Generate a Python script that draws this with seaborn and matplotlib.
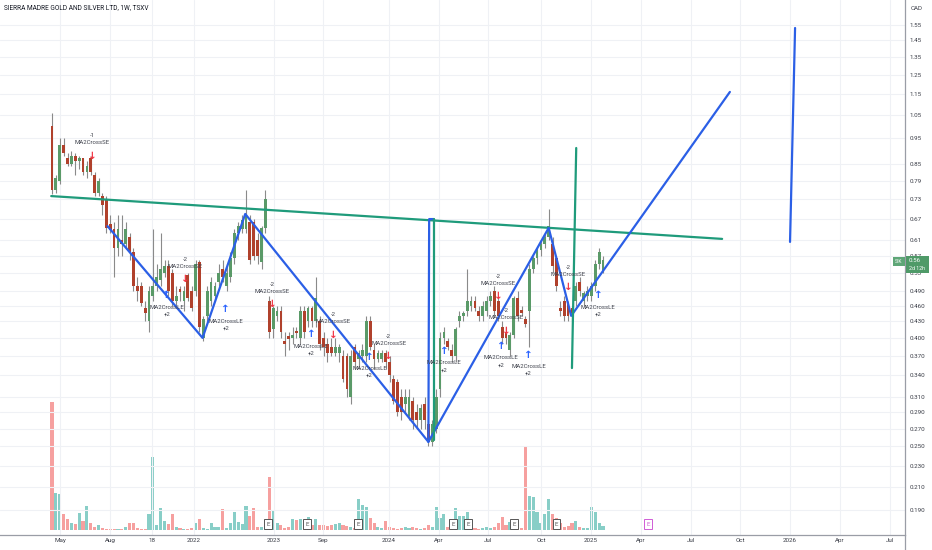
import numpy as np
import pandas as pd
import matplotlib
matplotlib.use("Agg")
import matplotlib.pyplot as plt
from matplotlib.patches import Rectangle
from matplotlib.lines import Line2D
from matplotlib.transforms import blended_transform_factory
from matplotlib.ticker import NullLocator
import seaborn as sns

# ---------------- data (weekly bars, CAD) ----------------
opens = [1.00, 0.76, 0.79, 0.92, 0.87, 0.85, 0.88, 0.86, 0.87, 0.82,
         0.87, 0.81, 0.75, 0.74, 0.73, 0.655, 0.64, 0.59, 0.61, 0.60,
         0.62, 0.58, 0.50, 0.50, 0.455, 0.43, 0.48, 0.50, 0.515, 0.53,
         0.545, 0.53, 0.47, 0.49, 0.47, 0.525, 0.49, 0.49, 0.555, 0.40,
         0.44, 0.47, 0.48, 0.51, 0.54, 0.50, 0.52, 0.565, 0.63, 0.64,
         0.64, 0.66, 0.66, 0.61, 0.555, 0.645,
         0.47, 0.415, 0.44, 0.45, 0.395, 0.40, 0.40, 0.41, 0.40, 0.45,
         0.43, 0.455, 0.43, 0.43, 0.40, 0.39, 0.385, 0.375, 0.375, 0.37,
         0.37, 0.31, 0.385, 0.365, 0.37, 0.37, 0.43, 0.38, 0.365, 0.365,
         0.375, 0.36, 0.335, 0.33, 0.31, 0.30, 0.285, 0.305, 0.29, 0.28,
         0.30, 0.275, 0.255, 0.27, 0.32, 0.40, 0.395, 0.38, 0.37, 0.43,
         0.44, 0.45, 0.46, 0.47, 0.45, 0.44, 0.45, 0.47, 0.49, 0.47,
         0.42, 0.41, 0.38, 0.405, 0.475, 0.45, 0.435, 0.45, 0.54, 0.565,
         0.585, 0.60, 0.62, 0.60, 0.565, 0.455, 0.47, 0.465, 0.455, 0.47,
         0.51, 0.47, 0.48, 0.48, 0.50, 0.55, 0.535]
highs = [1.06, 0.81, 0.95, 0.95, 0.89, 0.90, 0.89, 0.88, 0.87, 0.86,
         0.88, 0.82, 0.80, 0.75, 0.74, 0.68, 0.66, 0.68, 0.68, 0.66,
         0.63, 0.59, 0.52, 0.51, 0.47, 0.50, 0.64, 0.55, 0.63, 0.56,
         0.56, 0.54, 0.50, 0.50, 0.50, 0.53, 0.50, 0.56, 0.56, 0.44,
         0.50, 0.52, 0.51, 0.55, 0.56, 0.55, 0.58, 0.64, 0.66, 0.68,
         0.76, 0.68, 0.67, 0.63, 0.65, 0.76,
         0.48, 0.46, 0.46, 0.46, 0.41, 0.41, 0.42, 0.42, 0.46, 0.46,
         0.46, 0.46, 0.52, 0.44, 0.41, 0.40, 0.40, 0.40, 0.39, 0.38,
         0.375, 0.38, 0.39, 0.38, 0.39, 0.44, 0.44, 0.39, 0.38, 0.38,
         0.38, 0.37, 0.34, 0.335, 0.32, 0.32, 0.32, 0.31, 0.30, 0.30,
         0.31, 0.28, 0.28, 0.32, 0.41, 0.42, 0.40, 0.39, 0.42, 0.45,
         0.45, 0.54, 0.48, 0.48, 0.46, 0.47, 0.48, 0.49, 0.50, 0.48,
         0.43, 0.42, 0.41, 0.48, 0.49, 0.46, 0.44, 0.55, 0.57, 0.59,
         0.61, 0.63, 0.70, 0.62, 0.57, 0.47, 0.48, 0.47, 0.46, 0.51,
         0.52, 0.49, 0.50, 0.51, 0.56, 0.59, 0.57]
lows = [0.745, 0.75, 0.78, 0.88, 0.84, 0.84, 0.81, 0.83, 0.81, 0.80,
        0.81, 0.74, 0.74, 0.68, 0.63, 0.63, 0.52, 0.57, 0.57, 0.59,
        0.56, 0.49, 0.47, 0.46, 0.43, 0.41, 0.47, 0.49, 0.50, 0.52,
        0.48, 0.46, 0.46, 0.47, 0.45, 0.47, 0.45, 0.48, 0.41, 0.395,
        0.43, 0.46, 0.47, 0.50, 0.51, 0.49, 0.51, 0.55, 0.61, 0.63,
        0.63, 0.55, 0.56, 0.55, 0.54, 0.63,
        0.40, 0.40, 0.43, 0.40, 0.37, 0.38, 0.39, 0.40, 0.39, 0.40,
        0.42, 0.42, 0.42, 0.38, 0.37, 0.36, 0.37, 0.37, 0.36, 0.33,
        0.31, 0.30, 0.35, 0.35, 0.36, 0.36, 0.38, 0.35, 0.36, 0.36,
        0.35, 0.33, 0.30, 0.285, 0.28, 0.29, 0.28, 0.27, 0.27, 0.27,
        0.27, 0.25, 0.25, 0.265, 0.31, 0.39, 0.38, 0.36, 0.36, 0.42,
        0.43, 0.44, 0.45, 0.45, 0.43, 0.43, 0.44, 0.46, 0.44, 0.43,
        0.39, 0.39, 0.37, 0.40, 0.43, 0.44, 0.42, 0.385, 0.53, 0.55,
        0.57, 0.59, 0.61, 0.53, 0.49, 0.44, 0.43, 0.43, 0.43, 0.46,
        0.48, 0.46, 0.47, 0.47, 0.49, 0.54, 0.53]
closes = [0.76, 0.80, 0.92, 0.89, 0.85, 0.88, 0.86, 0.87, 0.82, 0.84,
          0.82, 0.75, 0.79, 0.71, 0.645, 0.638, 0.59, 0.64, 0.60, 0.64,
          0.58, 0.50, 0.49, 0.465, 0.445, 0.49, 0.50, 0.52, 0.54, 0.545,
          0.49, 0.47, 0.48, 0.488, 0.49, 0.475, 0.455, 0.55, 0.42, 0.435,
          0.49, 0.51, 0.50, 0.53, 0.52, 0.53, 0.565, 0.63, 0.65, 0.665,
          0.68, 0.56, 0.57, 0.57, 0.645, 0.73,
          0.41, 0.455, 0.45, 0.41, 0.39, 0.398, 0.402, 0.408, 0.45, 0.41,
          0.455, 0.43, 0.475, 0.39, 0.385, 0.375, 0.375, 0.385, 0.385, 0.335,
          0.32, 0.37, 0.36, 0.375, 0.38, 0.43, 0.385, 0.365, 0.375, 0.375,
          0.36, 0.34, 0.305, 0.29, 0.29, 0.31, 0.31, 0.28, 0.28, 0.295,
          0.28, 0.255, 0.275, 0.31, 0.40, 0.41, 0.385, 0.37, 0.415, 0.44,
          0.442, 0.47, 0.47, 0.455, 0.44, 0.46, 0.47, 0.48, 0.45, 0.44,
          0.40, 0.40, 0.405, 0.475, 0.44, 0.445, 0.425, 0.54, 0.565, 0.585,
          0.60, 0.62, 0.65, 0.545, 0.50, 0.45, 0.44, 0.44, 0.445, 0.50,
          0.49, 0.485, 0.49, 0.50, 0.55, 0.58, 0.56]
volumes = [128, 37, 36, 16, 11, 7, 6, 17, 9, 24,
           7, 3, 5, 2, 1, 1, 1, 1, 1, 3,
           7, 7, 2, 1, 1, 16, 73, 5, 22, 9,
           6, 16, 3, 2, 1, 1, 2, 7, 11, 2,
           1, 7, 3, 3, 21, 2, 7, 18, 8, 6,
           24, 14, 22, 3, 3, 4,
           53, 20, 7, 5, 2, 3, 11, 10, 11, 5,
           13, 5, 11, 5, 5, 4, 5, 6, 7, 5,
           4, 3, 2, 31, 25, 23, 12, 7, 3, 2,
           9, 3, 2, 1, 2, 3, 2, 3, 2, 1,
           2, 5, 3, 23, 12, 16, 3, 5, 22, 14,
           14, 18, 3, 2, 1, 2, 3, 2, 3, 7,
           13, 5, 8, 7, 3, 2, 84, 34, 33, 18,
           7, 16, 31, 16, 12, 7, 3, 4, 7, 9,
           3, 2, 2, 23, 18, 7, 4]

last_price = 0.56

# y-axis ticks as shown by the chart
price_ticks = [1.55, 1.45, 1.35, 1.25, 1.15, 1.05, 0.95, 0.85, 0.79, 0.73,
               0.67, 0.61, 0.57, 0.53, 0.49, 0.46, 0.43, 0.40, 0.37, 0.34,
               0.31, 0.29, 0.27, 0.25, 0.23, 0.21, 0.19]
price_labels = ["1.55", "1.45", "1.35", "1.25", "1.15", "1.05", "0.95", "0.85",
                "0.79", "0.73", "0.67", "0.61", "0.57", "0.53", "0.490", "0.460",
                "0.430", "0.400", "0.370", "0.340", "0.310", "0.290", "0.270",
                "0.250", "0.230", "0.210", "0.190"]
time_labels = ["May", "Aug", "18", "2022", "2023", "Sep", "2024", "Apr", "Jul",
               "Oct", "2025", "Apr", "Jul", "Oct", "2026", "Apr", "Jul"]

# drawings (bar index, price)
zig_i = [14.3, 38.8, 49.8, 97.0, 128.0, 133.8, 174.7]
zig_p = [0.649, 0.400, 0.684, 0.255, 0.644, 0.440, 1.16]
neck_i = [-0.2, 172.7]
neck_p = [0.739, 0.614]
bluev_i = [97.0, 97.2, 98.4]
bluev_p = [0.255, 0.669, 0.669]
tealv_i = [98.4, 98.4]
tealv_p = [0.669, 0.257]
teal2_i = [134.0, 135.1]
teal2_p = [0.351, 0.910]
blue2_i = [190.2, 191.5]
blue2_p = [0.606, 1.53]

# strategy signals
se_i = [10.3, 34.3, 56.8, 72.5, 86.8, 115.0, 117.0, 133.0]
se_p = [0.930, 0.546, 0.490, 0.429, 0.391, 0.507, 0.436, 0.527]
se_qty = ["-1", "-2", "-2", "-2", "-2", "-2", "-2", "-2"]
le_i = [29.6, 44.8, 66.8, 81.8, 101.0, 115.8, 122.8, 140.7]
le_p = [0.457, 0.430, 0.386, 0.350, 0.359, 0.367, 0.353, 0.457]
le_qty = ["+2"] * 8
earn_i = [55.7, 65.8, 78.8, 103.3, 107.3, 119.0, 130.0]
earn_future_i = [153.6]

# ---------------- style ----------------
sns.set_theme(style="white")
plt.rcParams["font.family"] = ["Roboto", "DejaVu Sans"]

GREEN = "#5a9a68"
RED = "#b0412c"
WICK = "#8a8a8a"
BLUE = "#2b5fe6"
TEAL = "#1f9b7b"
VUP = "#26a69a"
VDN = "#ef5350"
GRID = "#eff1f5"
TXT = "#3f424c"

W, H = 932, 550
SP = 551 / 142.0           # pixel spacing of bars
fig = plt.figure(figsize=(W / 100, H / 100), dpi=100)
fig.patch.set_facecolor("white")
rect = [0, 15 / H, 905 / W, 535 / H]
vax = fig.add_axes(rect, zorder=1)
ax = fig.add_axes(rect, zorder=2, sharex=vax)
ax.patch.set_alpha(0)

idx = np.arange(len(closes))
o = np.array(opens); c = np.array(closes)
hi = np.array(highs); lo = np.array(lows)
up = c >= o

# volume
vax.bar(idx, volumes, width=0.8, color=np.where(up, VUP, VDN), alpha=0.55, linewidth=0)
vax.set_ylim(-5, 530)
vax.axis("off")

# price
ax.set_yscale("log")
ax.set_xlim(-52 / SP, 853 / SP)
ax.set_ylim(0.1704, 1.727)
ax.vlines(idx, lo, hi, color=WICK, lw=0.8, zorder=3)
bot = np.minimum(o, c)
hgt = np.maximum(np.abs(c - o), bot * 0.012)
ax.bar(idx, hgt, bottom=bot, width=0.72, color=np.where(up, GREEN, RED), linewidth=0, zorder=4)

# drawings
def draw(xs, ys, color):
    d = pd.DataFrame({"i": xs, "p": ys})
    sns.lineplot(data=d, x="i", y="p", sort=False, estimator=None, color=color,
                 lw=1.6, ax=ax, zorder=5)

draw(neck_i, neck_p, TEAL)
draw(zig_i, zig_p, BLUE)
draw(bluev_i, bluev_p, BLUE)
draw(tealv_i, tealv_p, TEAL)
draw(teal2_i, teal2_p, TEAL)
draw(blue2_i, blue2_p, BLUE)

# signals
def note(i, p, txt, dy, color=TXT, size=4.3, weight="normal"):
    ax.annotate(txt, (i, p), xytext=(0, -dy * 0.72), textcoords="offset points",
                ha="center", va="center", fontsize=size, color=color,
                fontweight=weight, zorder=7)

for i, p, q in zip(se_i, se_p, se_qty):
    note(i, p, q, -7)
    note(i, p, "MA2CrossSE", 0)
    note(i, p, "\u2193", 13, color="#f23645", size=7.5, weight="bold")
for i, p, q in zip(le_i, le_p, le_qty):
    note(i, p, "\u2191", -12, color="#2962ff", size=7.5, weight="bold")
    note(i, p, "MA2CrossLE", 0)
    note(i, p, q, 7)

# earnings markers
btr = blended_transform_factory(ax.transData, ax.transAxes)
for i in earn_i:
    ax.text(i, 11 / 535, "E", transform=btr, ha="center", va="center", fontsize=4.4,
            color="#555555", zorder=8,
            bbox=dict(boxstyle="square,pad=0.35", fc="white", ec="#555555", lw=0.7))
for i in earn_future_i:
    ax.text(i, 11 / 535, "E", transform=btr, ha="center", va="center", fontsize=4.4,
            color="#d05cd6", zorder=8,
            bbox=dict(boxstyle="square,pad=0.35", fc="white", ec="#d05cd6", lw=0.7))

# axes / ticks
tick_px = [60, 110, 152, 194, 274, 323, 389, 439, 488, 541, 591, 641, 691, 740, 790, 840, 890]
ax.set_xticks([(px - 52) / SP for px in tick_px])
ax.set_xticklabels(time_labels)
ax.set_yticks(price_ticks)
ax.set_yticklabels(price_labels)
ax.yaxis.set_minor_locator(NullLocator())
ax.yaxis.tick_right()
ax.tick_params(axis="y", length=0, pad=3.5, labelsize=4.5, labelcolor="#3a3d47")
ax.tick_params(axis="x", length=0, pad=2.2, labelsize=4.5, labelcolor="#3a3d47")
ax.set_xlabel(""); ax.set_ylabel("")
ax.grid(True, color=GRID, lw=0.8)
for s in ["top", "left"]:
    ax.spines[s].set_visible(False)
for s in ["right", "bottom"]:
    ax.spines[s].set_color("#9a9da6")
    ax.spines[s].set_linewidth(0.9)
fig.add_artist(Line2D([905 / W, 905 / W], [0, 15 / H], color="#9a9da6", lw=0.9,
                      transform=fig.transFigure, zorder=9))

# header texts
fig.text(4 / W, 1 - 8 / H, "SIERRA MADRE GOLD AND SILVER LTD, 1W, TSXV",
         fontsize=4.7, color="#131722", va="center", ha="left")
fig.text(917 / W, 1 - 9 / H, "CAD", fontsize=4.4, color="#3a3d47", va="center", ha="center")

# last price tag
fig.add_artist(Rectangle((906 / W, 1 - 273 / H), 23 / W, 17 / H, transform=fig.transFigure,
                         fc="#4f9a68", ec="none", zorder=10))
fig.add_artist(Rectangle((893 / W, 1 - 266 / H), 12 / W, 9 / H, transform=fig.transFigure,
                         fc="#5ea677", ec="none", zorder=10))
fig.text(899 / W, 1 - 261.5 / H, "SIK", fontsize=3.6, color="white", ha="center", va="center", zorder=11)
fig.text(909 / W, 1 - 260.5 / H, "0.56", fontsize=4.4, color="white", ha="left", va="center", zorder=11)
fig.text(909 / W, 1 - 268.5 / H, "2d 12h", fontsize=3.8, color="white", ha="left", va="center", zorder=11)

fig.savefig("out.png", dpi=100, facecolor="white")
